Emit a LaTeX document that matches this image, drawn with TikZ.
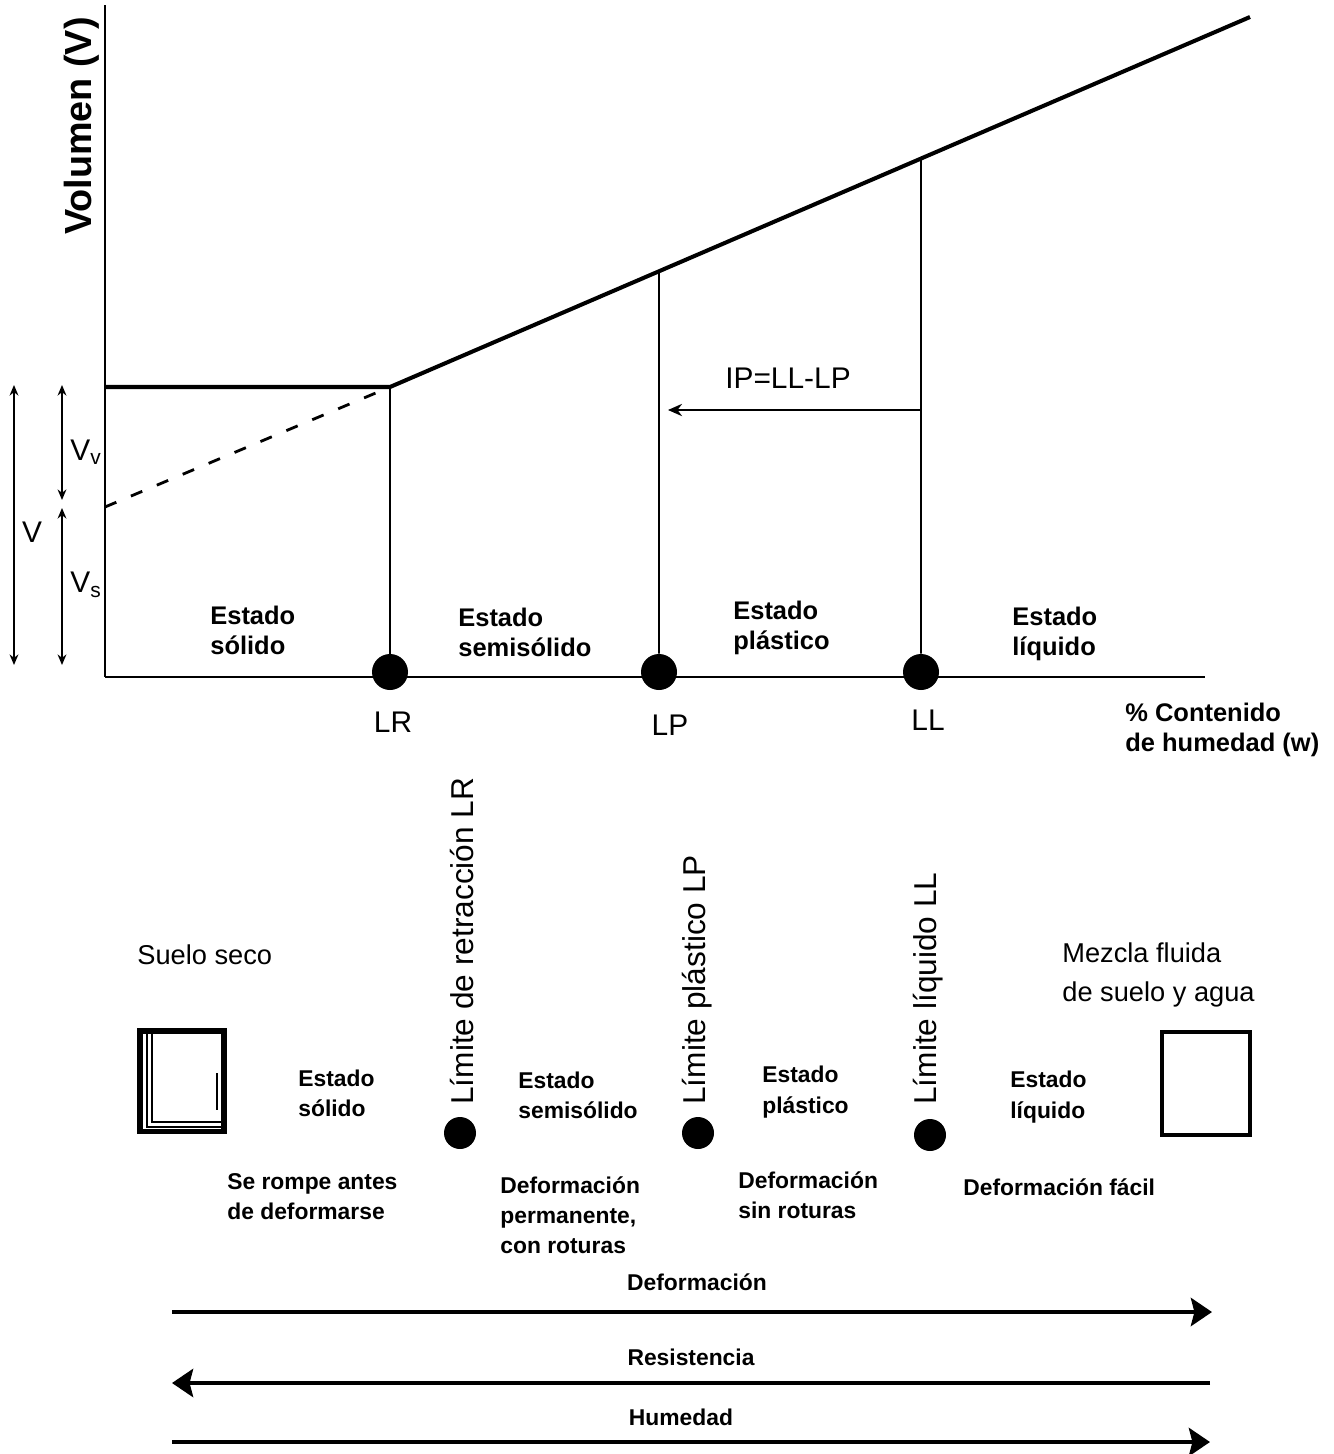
\documentclass[tikz,border=0pt]{standalone}
\usepackage{fontspec}
\setmainfont{Liberation Sans}
\usetikzlibrary{arrows.meta,positioning}

\begin{document}
\begin{tikzpicture}[x=0.02cm, y=-0.02cm,
    every node/.style={inner sep=0pt},
    estado/.style={font=\bfseries\fontsize{14.5}{17}\selectfont, align=left, anchor=west},
    nota/.style={font=\bfseries\fontsize{13}{17.2}\selectfont, align=left, anchor=west},
    rotulo/.style={font=\fontsize{17}{20}\selectfont},
    texto/.style={font=\fontsize{15.5}{22}\selectfont, align=left, anchor=west},
    limite/.style={font=\fontsize{18}{20}\selectfont, rotate=90, anchor=west},
    punto/.style={circle, fill=black, minimum size=0.72cm},
    puntob/.style={circle, fill=black, minimum size=0.64cm},
    curva/.style={line width=2.3pt},
    guia/.style={line width=1pt},
    flecha/.style={line width=2.8pt, -{Stealth[length=12pt,width=16pt,inset=2pt]}},
    cota/.style={line width=1pt, {Stealth[length=6pt,width=5pt]}-{Stealth[length=6pt,width=5pt]}}]
  \useasboundingbox (0,0) rectangle (1334,1454);

  % grafico volumen - humedad
  \coordinate (o) at (105,677);
  \coordinate (ytop) at (105,5);
  \coordinate (xend) at (1205,677);
  \coordinate (v0) at (105,387);
  \coordinate (kink) at (390,387);
  \coordinate (fin) at (1250,17);
  \coordinate (d0) at (105,507);
  \draw[line width=1.7pt] (ytop) -- (o);
  \draw[line width=1.1pt] (o) -- (xend);
  \draw[curva] (v0) -- (kink) -- (fin);
  \draw[line width=1.6pt, dash pattern=on 7pt off 9pt] (d0) -- (kink);
  \path (kink) -- (fin) coordinate[pos=0.3128] (lpTop) coordinate[pos=0.6174] (llTop);

  \node[punto] (LR) at (390,672) {};
  \node[punto] (LP) at (659,672) {};
  \node[punto] (LL) at (921,672) {};
  \node[rotulo] (lrLab) at (393,722) {LR};
  \node[rotulo] (lpLab) at (670,725) {LP};
  \node[rotulo] (llLab) at (928,720) {LL};
  \draw[guia] (kink) -- (LR);
  \draw[guia] (lpTop) -- (LP);
  \draw[guia] (llTop) -- (LL);

  % indice de plasticidad
  \coordinate (ipA) at (921,410);
  \coordinate (ipB) at (668,410);
  \draw[guia, -{Stealth[length=8pt,width=7pt]}] (ipA) -- (ipB);
  \node[rotulo] (ip) at (788,378) {IP=LL-LP};

  % volumenes
  \coordinate (vt) at (14,385);
  \coordinate (vb) at (14,665);
  \coordinate (vvt) at (62,385);
  \coordinate (vvb) at (62,500);
  \coordinate (vst) at (62,508);
  \coordinate (vsb) at (62,665);
  \draw[cota] (vt) -- (vb);
  \draw[cota] (vvt) -- (vvb);
  \draw[cota] (vst) -- (vsb);
  \node[rotulo] (vLab) at (32,532) {V};
  \node[rotulo, anchor=west] (vvLab) at (70,452) {V\textsubscript{v}};
  \node[rotulo, anchor=west] (vsLab) at (70,585) {V\textsubscript{s}};
  \node[font=\bfseries\fontsize{21.5}{24}\selectfont, rotate=90] (ejeV) at (82,126) {Volumen (V)};

  \node[estado] (e1) at (210,630) {Estado\\sólido};
  \node[estado] (e2) at (458,632) {Estado\\semisólido};
  \node[estado] (e3) at (733,628) {Estado\\plástico};
  \node[estado] (e4) at (1012,634) {Estado\\líquido};
  \node[estado] (ejeW) at (1125,730) {\% Contenido\\de humedad (w)};

  % esquema inferior
  \node[texto] (seco) at (137,955) {Suelo seco};
  \node[texto] (mezcla) at (1062,975) {Mezcla fluida\\de suelo y agua};
  \node[draw, line width=3.4pt, minimum width=1.68cm, minimum height=2.02cm] (cajaA) at (182,1081) {};
  \draw[line width=0.6pt] (147,1034) -- (147,1127) -- (222,1127);
  \draw[line width=0.6pt] (152,1034) -- (152,1122) -- (222,1122);
  \draw[line width=1.6pt] (217,1073) -- (217,1110);
  \node[draw, line width=2.3pt, minimum width=1.76cm, minimum height=2.06cm] (cajaB) at (1206,1083.5) {};

  \node[puntob] (pLR) at (460,1133) {};
  \node[puntob] (pLP) at (698,1133) {};
  \node[puntob] (pLL) at (930,1135) {};
  \node[limite] (tLR) at (462,1105) {Límite de retracción LR};
  \node[limite] (tLP) at (697,1105) {Límite plástico LP};
  \node[limite] (tLL) at (928,1105) {Límite líquido LL};

  \node[nota] (b1) at (298,1093) {Estado\\sólido};
  \node[nota] (b2) at (518,1095) {Estado\\semisólido};
  \node[nota] (b3) at (762,1092) {Estado\\plástico};
  \node[nota] (b4) at (1010,1097) {Estado\\líquido};
  \node[nota] (c1) at (227,1197) {Se rompe antes\\de deformarse};
  \node[nota] (c2) at (500,1215) {Deformación\\permanente,\\con roturas};
  \node[nota] (c3) at (738,1195) {Deformación\\sin roturas};
  \node[nota] (c4) at (963,1187) {Deformación fácil};

  % tendencias
  \coordinate (a1l) at (172,1312);
  \coordinate (a1r) at (1212,1312);
  \coordinate (a2l) at (172,1383);
  \coordinate (a2r) at (1210,1383);
  \coordinate (a3l) at (172,1442);
  \coordinate (a3r) at (1210,1442);
  \draw[flecha] (a1l) -- (a1r) node[midway, above=0.38cm, nota, anchor=south, xshift=0.1cm] {Deformación};
  \draw[flecha] (a2r) -- (a2l) node[midway, above=0.3cm, nota, anchor=south] {Resistencia};
  \draw[flecha] (a3l) -- (a3r) node[midway, above=0.28cm, nota, anchor=south, xshift=-0.2cm] {Humedad};
\end{tikzpicture}
\end{document}
